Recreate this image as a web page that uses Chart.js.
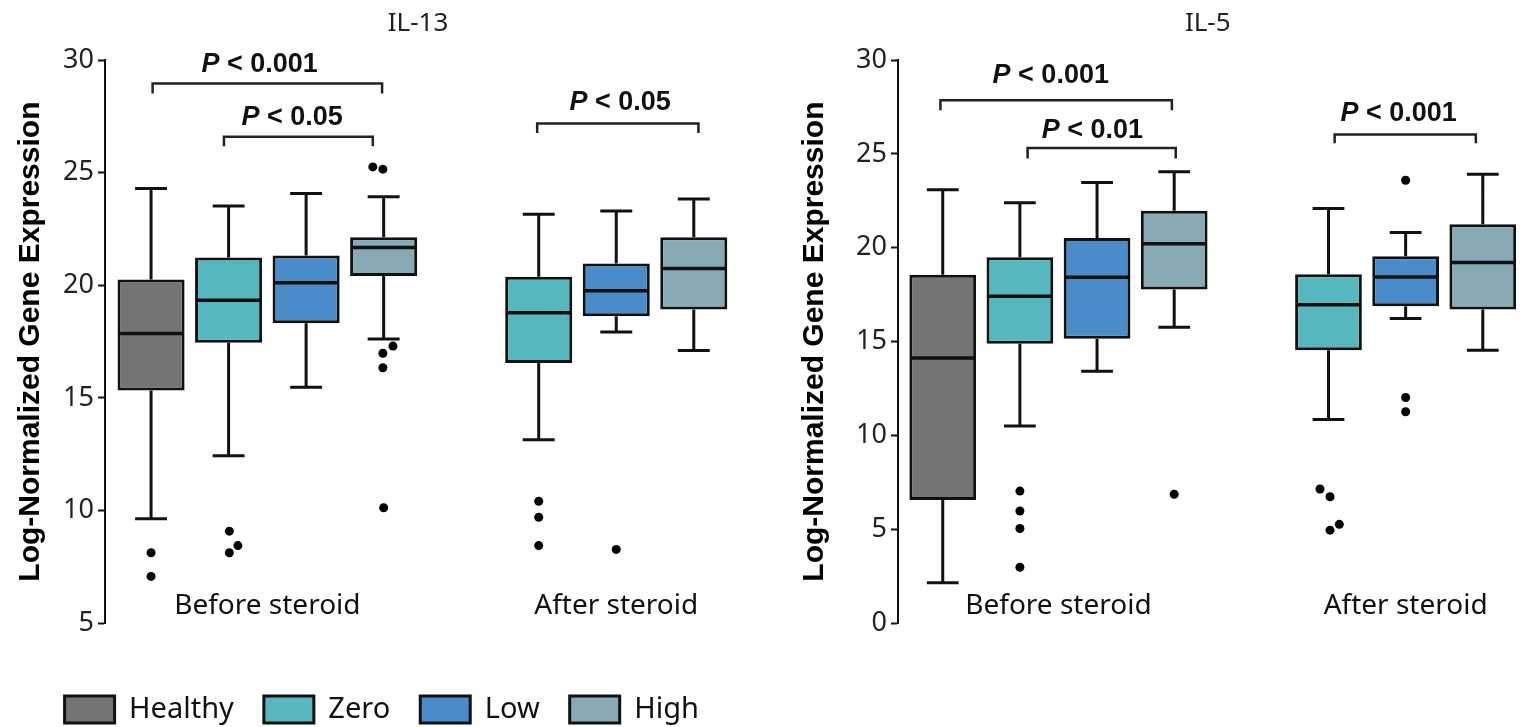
<!DOCTYPE html>
<html lang="en">
<head>
<meta charset="UTF-8">
<title>IL-13 / IL-5 - expressao genica</title>
<script src="https://cdn.jsdelivr.net/npm/chart.js"></script>
<style>
    body { margin: 0; background: #fff; }
    .painel { position: absolute; top: 0; width: 761px; height: 727px; }
</style>
</head>
<body>
<div class="painel" style="left:0"><canvas id="graficoIL13"></canvas></div>
<div class="painel" style="left:761px"><canvas id="graficoIL5"></canvas></div>

<script>
    // grupos e posicoes no eixo x
    const categorias = ['Healthy', 'Zero', 'Low', 'High'];
    const gruposNomes = ['Before steroid', 'After steroid'];
    const gruposPos = [2.5, 7];
    const posAntes = [1, 2, 3, 4];
    const posDepois = [null, 6, 7, 8];

    // [bigode min, Q1, mediana, Q3, bigode max]
    const il13Antes = [
        [9.63, 15.33, 17.86, 20.26, 24.3],
        [12.43, 17.45, 19.34, 21.24, 23.52],
        [15.47, 18.31, 20.11, 21.33, 24.08],
        [17.61, 20.41, 21.68, 22.13, 23.93]
    ];
    const il13Depois = [
        null,
        [13.14, 16.55, 18.78, 20.38, 23.16],
        [17.93, 18.63, 19.76, 20.97, 23.3],
        [17.11, 18.93, 20.75, 22.13, 23.83]
    ];
    // pontos fora [x, y]
    const il13Outliers = [
        [1, 8.12], [1, 7.07],
        [2.01, 9.08], [2.12, 8.44], [2.01, 8.12],
        [3.86, 25.26], [3.99, 25.16], [4.12, 17.3], [3.99, 16.98], [3.99, 16.34], [4, 10.12],
        [6, 10.41], [6, 9.7], [6, 8.44],
        [7, 8.27]
    ];
    // [x1, x2, topo, ponta]
    const il13Chaves = [
        [1.02, 3.98, 28.97, 28.52],
        [1.94, 3.86, 26.6, 26.18],
        [5.98, 8.06, 27.19, 26.77]
    ];
    const il13Textos = ['P < 0.001', 'P < 0.05', 'P < 0.05'];
    const il13TextosPos = [[2.4, 29.48], [2.82, 27.11], [7.05, 27.78]];

    const il5Antes = [
        [2.15, 6.55, 14.12, 18.57, 23.1],
        [10.5, 14.88, 17.42, 19.5, 22.4],
        [13.42, 15.15, 18.43, 20.52, 23.48],
        [15.77, 17.78, 20.22, 21.98, 24.05]
    ];
    const il5Depois = [
        null,
        [10.85, 14.54, 16.97, 18.59, 22.09],
        [16.23, 16.89, 18.45, 19.55, 20.81],
        [14.54, 16.71, 19.22, 21.26, 23.92]
    ];
    const il5Outliers = [
        [2, 7.03], [2, 5.97], [2, 5.04], [2, 2.97],
        [4, 6.86],
        [5.89, 7.14], [6.02, 6.73], [6.14, 5.26], [6.02, 4.95],
        [7, 23.6], [7, 12.02], [7, 11.26]
    ];
    const il5Chaves = [
        [0.97, 3.97, 27.86, 27.33],
        [2.1, 4.02, 25.32, 24.76],
        [6.08, 7.91, 26.04, 25.57]
    ];
    const il5Textos = ['P < 0.001', 'P < 0.01', 'P < 0.001'];
    const il5TextosPos = [[2.4, 28.79], [2.94, 25.84], [6.91, 26.76]];

    const cores = ['#747474', '#56b8be', '#4a8bc9', '#87aab4'];
    const corLinha = '#111';
    const meiaTampa = 0.206;
    const meiaCaixa = 0.42;

    // escreve os "P < x" em cima das chaves
    const rotulosP = {
        id: 'rotulosP',
        afterDatasetsDraw(chart, args, opts) {
            const ctx = chart.ctx;
            const sx = chart.scales.x, sy = chart.scales.y;
            const fonteP = 'italic bold 27px "Liberation Sans", Arial, sans-serif';
            const fonteR = 'bold 27px "Liberation Sans", Arial, sans-serif';
            ctx.save();
            ctx.fillStyle = corLinha;
            ctx.textBaseline = 'alphabetic';
            opts.textos.forEach(function (t, i) {
                const resto = t.slice(1);
                ctx.font = fonteP;
                const wP = ctx.measureText('P').width;
                ctx.font = fonteR;
                const wR = ctx.measureText(resto).width;
                const px = sx.getPixelForValue(opts.pos[i][0]) - (wP + wR) / 2;
                const py = sy.getPixelForValue(opts.pos[i][1]);
                ctx.font = fonteP;
                ctx.fillText('P', px, py);
                ctx.font = fonteR;
                ctx.fillText(resto, px + wP, py);
            });
            ctx.restore();
        }
    };

    function montarDatasets(antes, depois, outliers, chaves) {
        const datasets = [];
        const bigodes = [];
        const medianas = [];
        const linhasChave = [];

        const caixas = [];
        categorias.forEach(function (cat, i) {
            const dados = [];
            if (antes[i]) { dados.push({ x: posAntes[i], y: [antes[i][1], antes[i][3]] }); caixas.push([posAntes[i], antes[i]]); }
            if (depois[i]) { dados.push({ x: posDepois[i], y: [depois[i][1], depois[i][3]] }); caixas.push([posDepois[i], depois[i]]); }
            datasets.push({
                type: 'bar',
                label: cat,
                data: dados,
                backgroundColor: cores[i],
                borderColor: corLinha,
                borderWidth: 3,
                borderSkipped: false,
                grouped: false,
                barPercentage: 0.865,
                categoryPercentage: 1,
                order: 2
            });
        });

        caixas.forEach(function (c) {
            const x = c[0], s = c[1];
            bigodes.push(
                { x: x, y: s[0] }, { x: x, y: s[1] }, { x: x, y: null },
                { x: x, y: s[3] }, { x: x, y: s[4] }, { x: x, y: null },
                { x: x - meiaTampa, y: s[0] }, { x: x + meiaTampa, y: s[0] }, { x: x, y: null },
                { x: x - meiaTampa, y: s[4] }, { x: x + meiaTampa, y: s[4] }, { x: x, y: null }
            );
            medianas.push({ x: x - meiaCaixa, y: s[2] }, { x: x + meiaCaixa, y: s[2] }, { x: x, y: null });
        });

        chaves.forEach(function (c) {
            linhasChave.push(
                { x: c[0], y: c[3] }, { x: c[0], y: c[2] },
                { x: c[1], y: c[2] }, { x: c[1], y: c[3] }, { x: c[1], y: null }
            );
        });

        datasets.push({ type: 'scatter', label: 'bigodes', data: bigodes, showLine: true, spanGaps: false, borderColor: corLinha, borderWidth: 3, pointRadius: 0, order: 1 });
        datasets.push({ type: 'scatter', label: 'medianas', data: medianas, showLine: true, spanGaps: false, borderColor: corLinha, borderWidth: 3.5, pointRadius: 0, order: 0 });
        datasets.push({ type: 'scatter', label: 'chaves', data: linhasChave, showLine: true, spanGaps: false, borderColor: '#222', borderWidth: 2.5, pointRadius: 0, order: 1, clip: false });
        datasets.push({
            type: 'scatter', label: 'outliers',
            data: outliers.map(function (p) { return { x: p[0], y: p[1] }; }),
            pointRadius: 4.5, backgroundColor: '#000', borderWidth: 0, order: 0
        });
        return datasets;
    }

    function montarGrafico(id, cfg) {
        const config = {
            type: 'scatter',
            data: { datasets: montarDatasets(cfg.antes, cfg.depois, cfg.outliers, cfg.chaves) },
            plugins: [rotulosP],
            options: {
                responsive: true,
                maintainAspectRatio: false,
                animation: false,
                events: [],
                layout: { padding: cfg.padding },
                scales: {
                    x: {
                        type: 'linear',
                        // eixo x dentro da area do grafico, os nomes dos grupos ficam sobre o fundo
                        position: { y: cfg.yRotulos },
                        offset: false,
                        min: cfg.xMin,
                        max: cfg.xMax,
                        grid: { display: false, offset: false },
                        border: { display: false },
                        afterBuildTicks: function (scale) {
                            scale.ticks = gruposPos.map(function (v) { return { value: v }; });
                        },
                        ticks: {
                            autoSkip: false,
                            maxRotation: 0,
                            padding: 0,
                            color: '#111',
                            font: { family: '"Noto Sans"', size: 28 },
                            callback: function (v) { return gruposNomes[gruposPos.indexOf(v)]; }
                        }
                    },
                    y: {
                        min: cfg.yMin,
                        max: 30,
                        afterFit: function (scale) { scale.width = cfg.yLargura; },
                        border: { display: true, color: corLinha, width: 2 },
                        grid: { display: true, drawOnChartArea: false, drawTicks: true, tickLength: 7, tickWidth: 2, tickColor: corLinha },
                        ticks: { stepSize: 5, padding: 4, color: '#222', font: { family: '"Noto Sans"', size: 27 } },
                        title: {
                            display: true,
                            text: 'Log-Normalized Gene Expression',
                            color: '#000',
                            padding: { top: cfg.tituloY, bottom: 4 },
                            font: { family: '"Liberation Sans", Arial, sans-serif', size: 30, weight: 'bold' }
                        }
                    }
                },
                plugins: {
                    title: {
                        display: true,
                        text: cfg.titulo,
                        fullSize: false,
                        color: '#222',
                        padding: { top: 8, bottom: 21 },
                        font: { family: '"Noto Sans"', size: 26, weight: 'normal' }
                    },
                    legend: {
                        display: cfg.legenda,
                        position: 'bottom',
                        maxHeight: 104,
                        // titulo vazio so para afastar a legenda do eixo
                        title: { display: true, text: '', font: { size: 10 }, padding: { top: 0, bottom: 30 } },
                        labels: {
                            boxWidth: 50,
                            boxHeight: 27,
                            padding: 30,
                            color: '#111',
                            font: { family: '"Noto Sans"', size: 29 },
                            filter: function (item, data) { return categorias.indexOf(item.text) >= 0; }
                        }
                    },
                    tooltip: { enabled: false },
                    rotulosP: { textos: cfg.textos, pos: cfg.textosPos }
                }
            }
        };
        return new Chart(document.getElementById(id), config);
    }

    montarGrafico('graficoIL13', {
        titulo: 'IL-13',
        antes: il13Antes, depois: il13Depois, outliers: il13Outliers, chaves: il13Chaves,
        textos: il13Textos, textosPos: il13TextosPos,
        xMin: 0.406, xMax: 8.48, yMin: 5, yRotulos: 6.86,
        yLargura: 72.5, tituloY: -20,
        padding: { left: 32.5, right: 30, top: 0, bottom: 0 },
        legenda: true
    });

    montarGrafico('graficoIL5', {
        titulo: 'IL-5',
        antes: il5Antes, depois: il5Depois, outliers: il5Outliers, chaves: il5Chaves,
        textos: il5Textos, textosPos: il5TextosPos,
        xMin: 0.42, xMax: 8.45, yMin: 0, yRotulos: 2.23,
        yLargura: 105.5, tituloY: 4,
        padding: { left: 31.5, right: 0, top: 0, bottom: 104 },
        legenda: false
    });
</script>
</body>
</html>
